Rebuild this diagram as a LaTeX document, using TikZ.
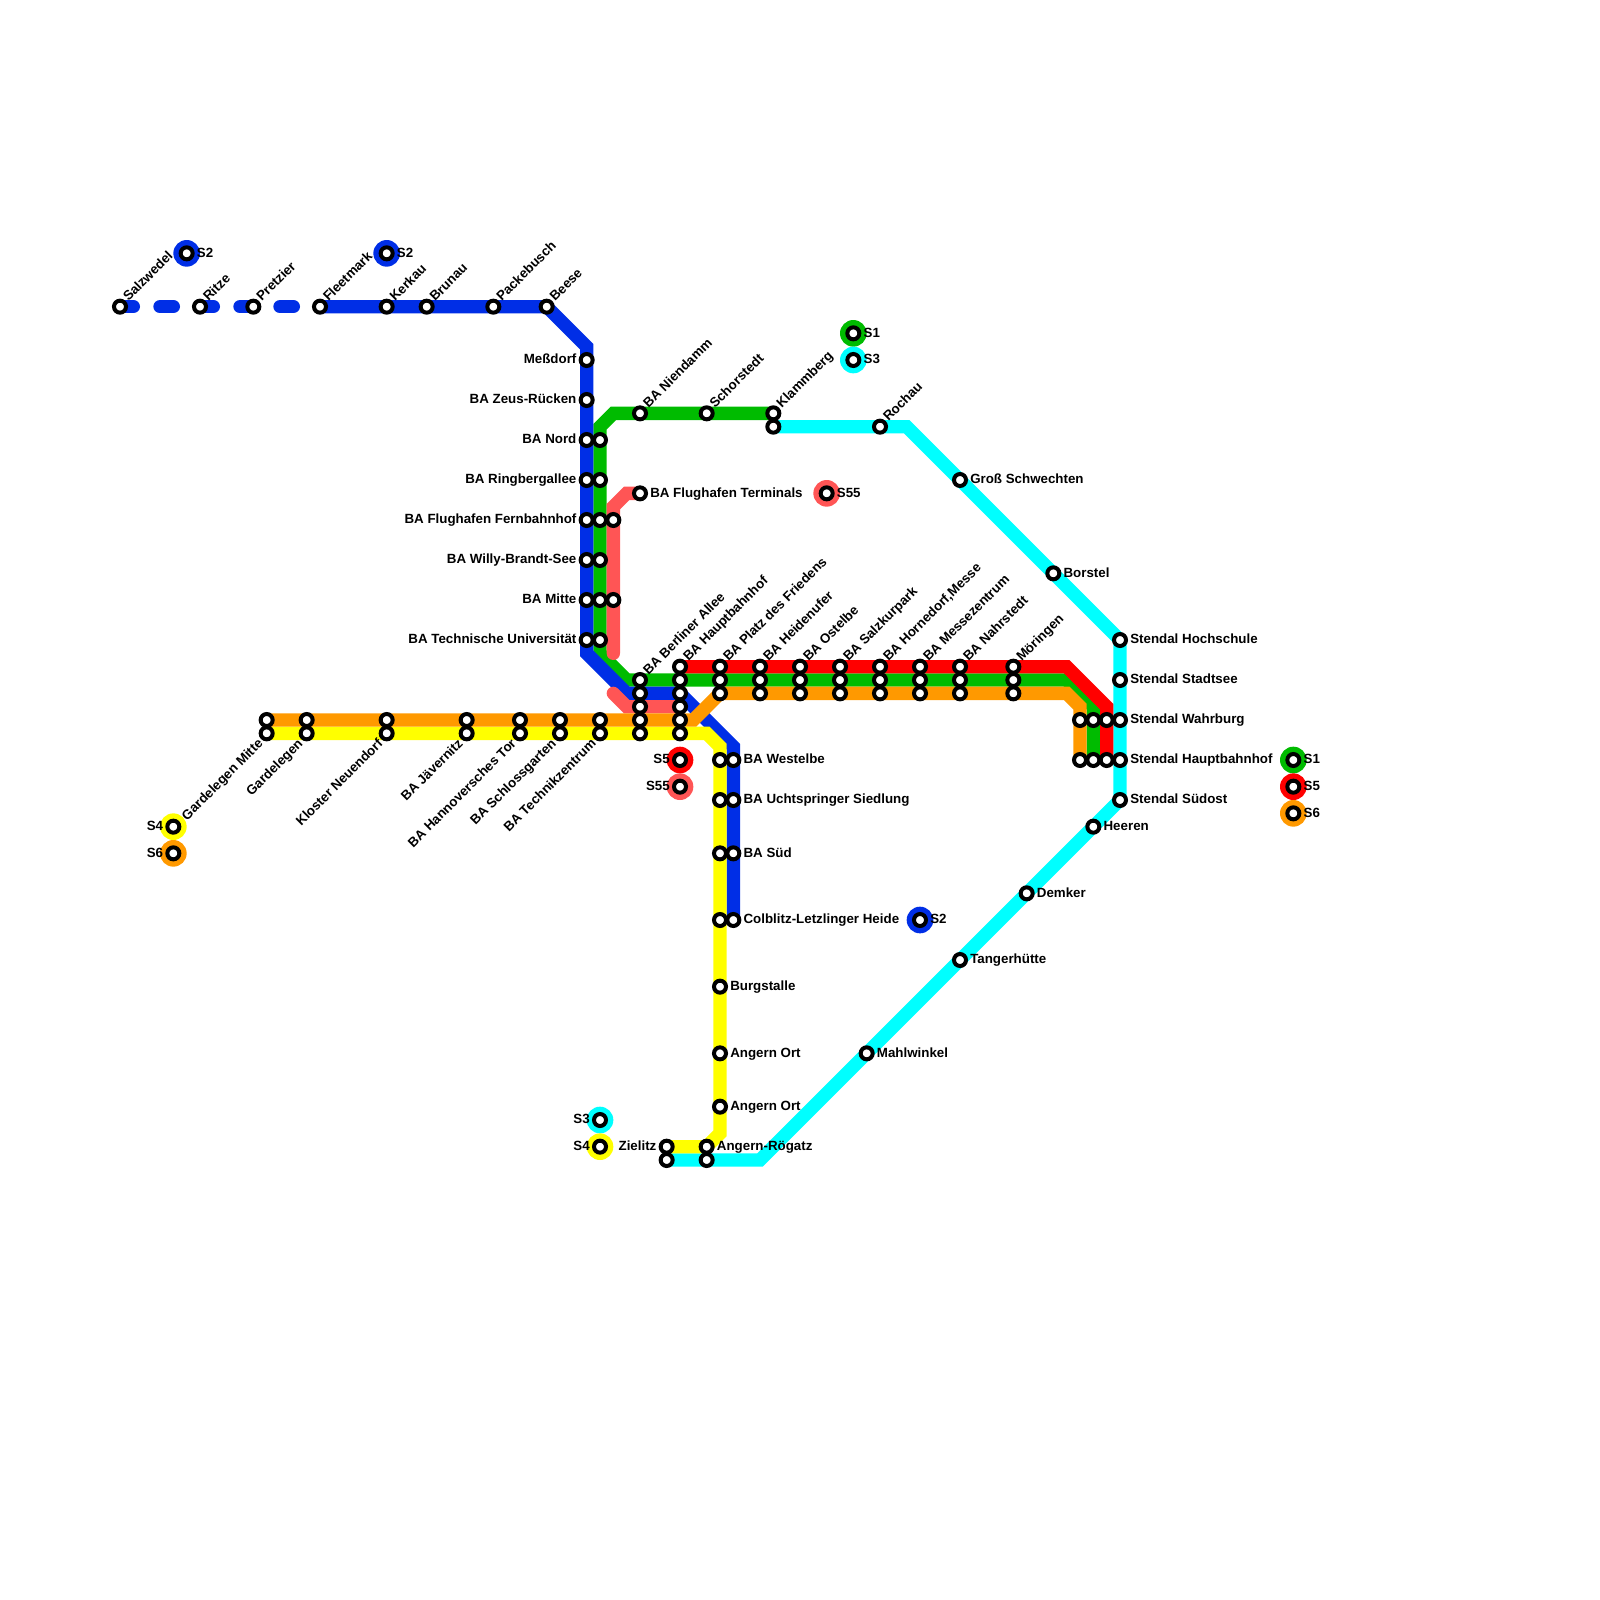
\documentclass[tikz,border=0pt]{standalone}
\usepackage{fontspec}
\setmainfont{Liberation Sans}
\usetikzlibrary{
  backgrounds
}
\definecolor{sonecol}{RGB}{0,187,0}
\definecolor{stwocol}{RGB}{0,46,230}
\definecolor{sthreecol}{RGB}{0,255,255}
\definecolor{sfourcol}{RGB}{255,255,0}
\definecolor{sfivecol}{RGB}{255,0,0}
\definecolor{sffcol}{RGB}{255,85,85}
\definecolor{ssixcol}{RGB}{255,153,0}
\tikzset{
  stn/.style={
    circle, draw=black, fill=white, line width=3pt,
    minimum size=9pt, inner sep=0pt
  },
  legenddisc/.style={
    circle, minimum size=20pt, inner sep=0pt
  },
  slabel/.style={
    font=\bfseries\fontsize{10}{12}\selectfont, inner sep=0pt, text=black,
    text height=8pt, text depth=2.3pt
  },
  rl/.style={label={[slabel,label distance=1.5pt,anchor=west]0:{#1}}},
  ll/.style={label={[slabel,label distance=1.5pt,anchor=east]180:{#1}}},
  ul/.style={label={[slabel,label distance=1.2pt,rotate=45,anchor=west]45:{#1}}},
  dl/.style={label={[slabel,label distance=2pt,rotate=45,anchor=east]225:{#1}}},
  sline/.style={line width=10pt, line cap=round}
}
\begin{document}
\begin{tikzpicture}[x=10pt,y=-10pt]
    \useasboundingbox (0,0) rectangle (120,120);

    % legend discs
    \node[legenddisc, fill=stwocol] (da) at (14,19) {};
    \node[legenddisc, fill=stwocol] (db) at (29,19) {};
    \node[legenddisc, fill=sonecol] (dc) at (64,25) {};
    \node[legenddisc, fill=sthreecol] (dd) at (64,27) {};
    \node[legenddisc, fill=sffcol] (de) at (62,37) {};
    \node[legenddisc, fill=sfivecol] (df) at (51,57) {};
    \node[legenddisc, fill=sffcol] (dg) at (51,59) {};
    \node[legenddisc, fill=stwocol] (dh) at (69,69) {};
    \node[legenddisc, fill=sthreecol] (di) at (45,84) {};
    \node[legenddisc, fill=sfourcol] (dj) at (45,86) {};
    \node[legenddisc, fill=sfourcol] (dk) at (13,62) {};
    \node[legenddisc, fill=ssixcol] (dl) at (13,64) {};
    \node[legenddisc, fill=sonecol] (dm) at (97,57) {};
    \node[legenddisc, fill=sfivecol] (dn) at (97,59) {};
    \node[legenddisc, fill=ssixcol] (do) at (97,61) {};

    \node[stn, rl=S2] (la) at (da) {};
    \node[stn, rl=S2] (lb) at (db) {};
    \node[stn, rl=S1] (lc) at (dc) {};
    \node[stn, rl=S3] (ld) at (dd) {};
    \node[stn, rl=S55] (le) at (de) {};
    \node[stn, ll=S5] (lf) at (df) {};
    \node[stn, ll=S55] (lg) at (dg) {};
    \node[stn, rl=S2] (lh) at (dh) {};
    \node[stn, ll=S3] (li) at (di) {};
    \node[stn, ll=S4] (lj) at (dj) {};
    \node[stn, ll=S4] (lk) at (dk) {};
    \node[stn, ll=S6] (ll) at (dl) {};
    \node[stn, rl=S1] (lm) at (dm) {};
    \node[stn, rl=S5] (ln) at (dn) {};
    \node[stn, rl=S6] (lo) at (do) {};

    % top row
    \node[stn, ul=Salzwedel] (salzwedel) at (9,23) {};
    \node[stn, ul=Ritze] (ritze) at (15,23) {};
    \node[stn, ul=Pretzier] (pretzier) at (19,23) {};
    \node[stn, ul=Fleetmark] (fleetmark) at (24,23) {};
    \node[stn, ul=Kerkau] (kerkau) at (29,23) {};
    \node[stn, ul=Brunau] (brunau) at (32,23) {};
    \node[stn, ul=Packebusch] (packebusch) at (37,23) {};
    \node[stn, ul=Beese] (beese) at (41,23) {};

    % blue column
    \node[stn, ll=Meßdorf] (messdorf) at (44,27) {};
    \node[stn, ll=BA Zeus-Rücken] (zeus) at (44,30) {};
    \node[stn, ll=BA Nord] (nordb) at (44,33) {};
    \node[stn, ll=BA Ringbergallee] (ringb) at (44,36) {};
    \node[stn, ll=BA Flughafen Fernbahnhof] (fernb) at (44,39) {};
    \node[stn, ll=BA Willy-Brandt-See] (willyb) at (44,42) {};
    \node[stn, ll=BA Mitte] (mitteb) at (44,45) {};
    \node[stn, ll=BA Technische Universität] (tub) at (44,48) {};

    % green column
    \node[stn] (nordg) at (45,33) {};
    \node[stn] (ringg) at (45,36) {};
    \node[stn] (ferng) at (45,39) {};
    \node[stn] (willyg) at (45,42) {};
    \node[stn] (mitteg) at (45,45) {};
    \node[stn] (tug) at (45,48) {};

    % salmon column
    \node[stn] (fernp) at (46,39) {};
    \node[stn] (mittep) at (46,45) {};
    \node[stn, rl=BA Flughafen Terminals] (terminals) at (48,37) {};

    % green top
    \node[stn, ul=BA Niendamm] (niendamm) at (48,31) {};
    \node[stn, ul=Schorstedt] (schorstedt) at (53,31) {};
    \node[stn, ul=Klammberg] (klammberg) at (58,31) {};
    \node[stn] (klammbergc) at (58,32) {};

    % cyan line
    \node[stn, ul=Rochau] (rochau) at (66,32) {};
    \node[stn, rl=Groß Schwechten] (schwechten) at (72,36) {};
    \node[stn, rl=Borstel] (borstel) at (79,43) {};
    \node[stn, rl=Stendal Hochschule] (hochschule) at (84,48) {};
    \node[stn, rl=Stendal Stadtsee] (stadtsee) at (84,51) {};
    \node[stn, rl=Stendal Wahrburg] (wahrc) at (84,54) {};
    \node[stn, rl=Stendal Hauptbahnhof] (hbfc) at (84,57) {};
    \node[stn, rl=Stendal Südost] (suedost) at (84,60) {};
    \node[stn, rl=Heeren] (heeren) at (82,62) {};
    \node[stn, rl=Demker] (demker) at (77,67) {};
    \node[stn, rl=Tangerhütte] (tanger) at (72,72) {};
    \node[stn, rl=Mahlwinkel] (mahlwinkel) at (65,79) {};

    % stendal rows
    \node[stn] (wahro) at (81,54) {};
    \node[stn] (wahrg) at (82,54) {};
    \node[stn] (wahrr) at (83,54) {};
    \node[stn] (hbfo) at (81,57) {};
    \node[stn] (hbfg) at (82,57) {};
    \node[stn] (hbfr) at (83,57) {};

    % BA Berliner Allee stack
    \node[stn, ul=BA Berliner Allee] (allea) at (48,51) {};
    \node[stn] (alleb) at (48,52) {};
    \node[stn] (allec) at (48,53) {};
    \node[stn] (alled) at (48,54) {};
    \node[stn] (allee) at (48,55) {};

    % BA Hauptbahnhof stack
    \node[stn, ul=BA Hauptbahnhof] (bhfa) at (51,50) {};
    \node[stn] (bhfb) at (51,51) {};
    \node[stn] (bhfc) at (51,52) {};
    \node[stn] (bhfd) at (51,53) {};
    \node[stn] (bhfe) at (51,54) {};
    \node[stn] (bhff) at (51,55) {};

    % east stacks
    \node[stn, ul=BA Platz des Friedens] (friedena) at (54,50) {};
    \node[stn] (friedenb) at (54,51) {};
    \node[stn] (friedenc) at (54,52) {};
    \node[stn, ul=BA Heidenufer] (heidena) at (57,50) {};
    \node[stn] (heidenb) at (57,51) {};
    \node[stn] (heidenc) at (57,52) {};
    \node[stn, ul=BA Ostelbe] (ostelbea) at (60,50) {};
    \node[stn] (ostelbeb) at (60,51) {};
    \node[stn] (ostelbec) at (60,52) {};
    \node[stn, ul=BA Salzkurpark] (salza) at (63,50) {};
    \node[stn] (salzb) at (63,51) {};
    \node[stn] (salzc) at (63,52) {};
    \node[stn, ul={BA Hornedorf,Messe}] (hornea) at (66,50) {};
    \node[stn] (horneb) at (66,51) {};
    \node[stn] (hornec) at (66,52) {};
    \node[stn, ul=BA Messezentrum] (messea) at (69,50) {};
    \node[stn] (messeb) at (69,51) {};
    \node[stn] (messec) at (69,52) {};
    \node[stn, ul=BA Nahrstedt] (nahra) at (72,50) {};
    \node[stn] (nahrb) at (72,51) {};
    \node[stn] (nahrc) at (72,52) {};
    \node[stn, ul=Möringen] (moera) at (76,50) {};
    \node[stn] (moerb) at (76,51) {};
    \node[stn] (moerc) at (76,52) {};

    % west stacks
    \node[stn] (gmo) at (20,54) {};
    \node[stn, dl=Gardelegen Mitte] (gmy) at (20,55) {};
    \node[stn] (gao) at (23,54) {};
    \node[stn, dl=Gardelegen] (gay) at (23,55) {};
    \node[stn] (kno) at (29,54) {};
    \node[stn, dl=Kloster Neuendorf] (kny) at (29,55) {};
    \node[stn] (jao) at (35,54) {};
    \node[stn, dl=BA Jävernitz] (jay) at (35,55) {};
    \node[stn] (hto) at (39,54) {};
    \node[stn, dl=BA Hannoversches Tor] (hty) at (39,55) {};
    \node[stn] (sgo) at (42,54) {};
    \node[stn, dl=BA Schlossgarten] (sgy) at (42,55) {};
    \node[stn] (tzo) at (45,54) {};
    \node[stn, dl=BA Technikzentrum] (tzy) at (45,55) {};

    % south branch
    \node[stn] (westy) at (54,57) {};
    \node[stn, rl=BA Westelbe] (westb) at (55,57) {};
    \node[stn] (uchty) at (54,60) {};
    \node[stn, rl=BA Uchtspringer Siedlung] (uchtb) at (55,60) {};
    \node[stn] (suedy) at (54,64) {};
    \node[stn, rl=BA Süd] (suedb) at (55,64) {};
    \node[stn] (colby) at (54,69) {};
    \node[stn, rl=Colblitz-Letzlinger Heide] (colbb) at (55,69) {};
    \node[stn, rl=Burgstalle] (burgstalle) at (54,74) {};
    \node[stn, rl=Angern Ort] (angerna) at (54,79) {};
    \node[stn, rl=Angern Ort] (angernb) at (54,83) {};
    \node[stn, ll=Zielitz] (zielitzy) at (50,86) {};
    \node[stn] (zielitzc) at (50,87) {};
    \node[stn, rl=Angern-Rögatz] (roegatzy) at (53,86) {};
    \node[stn] (roegatzc) at (53,87) {};

    % bends
    \coordinate (gta) at (45,32);
    \coordinate (gtb) at (46,31);
    \coordinate (gba) at (45,49);
    \coordinate (gbb) at (47,51);
    \coordinate (gbc) at (80,51);
    \coordinate (gbd) at (82,53);
    \coordinate (bta) at (44,26);
    \coordinate (btb) at (44,49);
    \coordinate (btc) at (47,52);
    \coordinate (btd) at (55,56);
    \coordinate (cya) at (68,32);
    \coordinate (cyb) at (57,87);
    \coordinate (yeb) at (53,55);
    \coordinate (yec) at (54,56);
    \coordinate (yed) at (54,85);
    \coordinate (rea) at (80,50);
    \coordinate (reb) at (83,53);
    \coordinate (saa) at (47,37);
    \coordinate (sab) at (46,38);
    \coordinate (sac) at (46,49);
    \coordinate (sad) at (46,52);
    \coordinate (sae) at (47,53);
    \coordinate (ora) at (52,54);
    \coordinate (orb) at (80,52);
    \coordinate (orc) at (81,53);

    \begin{scope}[on background layer]
      \draw[sline, draw=sonecol] (klammberg.center) -- (gtb) -- (gta) -- (gba) -- (gbb) -- (gbc) -- (gbd) -- (hbfg.center);
      \draw[sline, draw=stwocol, dash pattern=on 10pt off 20pt] (salzwedel.center) -- (fleetmark.center);
      \draw[sline, draw=stwocol] (fleetmark.center) -- (beese.center) -- (bta) -- (btb) -- (btc) -- (bhfc.center) -- (btd) -- (colbb.center);
      \draw[sline, draw=sthreecol] (klammbergc.center) -- (cya) -- (hochschule.center) -- (suedost.center) -- (cyb) -- (zielitzc.center);
      \draw[sline, draw=sfourcol] (gmy.center) -- (yeb) -- (yec) -- (yed) -- (roegatzy.center) -- (zielitzy.center);
      \draw[sline, draw=sfivecol] (bhfa.center) -- (rea) -- (reb) -- (hbfr.center);
      \draw[sline, draw=sffcol] (terminals.center) -- (saa) -- (sab) -- (sac);
      \draw[sline, draw=sffcol] (sad) -- (sae) -- (bhfd.center);
      \draw[sline, draw=ssixcol] (gmo.center) -- (ora) -- (friedenc.center) -- (orb) -- (orc) -- (hbfo.center);
    \end{scope}

  \end{tikzpicture}
\end{document}
